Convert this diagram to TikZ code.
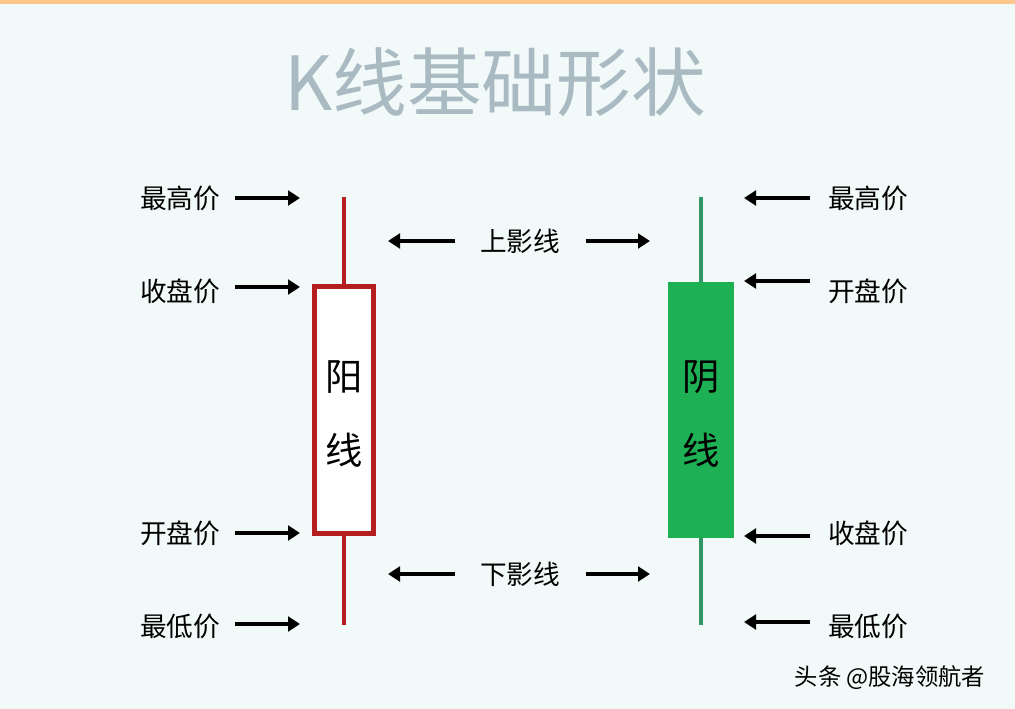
\documentclass[tikz,border=0pt]{standalone}
\usepackage{fontspec}
\newfontfamily\cjk{Noto Sans CJK SC}
\usetikzlibrary{arrows.meta}
\tikzset{every picture/.style={line width=0.75pt}}
\definecolor{bgc}{RGB}{241,249,249}
\definecolor{redc}{RGB}{180,30,30}
\definecolor{greenc}{RGB}{30,176,84}
\definecolor{greenw}{RGB}{50,150,100}
\definecolor{titlec}{RGB}{170,186,194}
\tikzset{
  lab/.style={inner sep=0.75pt,font=\cjk\fontsize{20}{22}\selectfont},
  boxtxt/.style={inner sep=0.75pt,font=\cjk\fontsize{28}{30}\selectfont},
  blkarrow/.style={line width=3.6pt,-{Triangle[length=9pt,width=11pt]}}
}
\begin{document}
\begin{tikzpicture}[x=0.75pt,y=0.75pt,yscale=-1]
	\fill[bgc] (0,0) rectangle (1015,709);
	\useasboundingbox (0,0) rectangle (1015,709);
	%top border
	\fill[orange!45] (0,0) rectangle (1015,4);
	
	% Title
	\node (title) [inner sep=0.75pt,text=titlec,font=\cjk\fontsize{56}{60}\selectfont] at (495,82) {K线基础形状};
	
	%Red candle
	\coordinate (rtop) at (344,197);
	\coordinate (rbot) at (344,625);
	\draw [redc,line width=3pt] (rtop) -- (rbot);
	\node (rbox) [draw=redc,fill=white,line width=3.5pt,minimum width=44pt,minimum height=185pt,inner sep=0pt] at (344,410) {};
	\node (yang) [boxtxt] at (344,377) {阳};
	\node (yline) [boxtxt] at (344,450) {线};
	
	%Green candle
	\coordinate (gtop) at (701,197);
	\coordinate (gbot) at (701,625);
	\draw [greenw,line width=3pt] (gtop) -- (gbot);
	\node (gbox) [fill=greenc,minimum width=49pt,minimum height=192pt,inner sep=0pt] at (701,410) {};
	\node (yin) [boxtxt] at (701,377) {阴};
	\node (gline) [boxtxt] at (701,450) {线};
	
	% Left labels
	\node (lhigh) [lab] at (180,198) {最高价};
	\node (lclose) [lab] at (180,291) {收盘价};
	\node (lopen) [lab] at (180,533) {开盘价};
	\node (llow) [lab] at (180,626) {最低价};
	\foreach \n/\y in {lhigh/198,lclose/287,lopen/533,llow/624}{
		\coordinate (\n a) at (235,\y);
		\coordinate (\n b) at (300,\y);
		\draw [blkarrow] (\n a) -- (\n b);
	}
	
	% Right labels
	\node (rhigh) [lab] at (868,198) {最高价};
	\node (ropen) [lab] at (868,291) {开盘价};
	\node (rclose) [lab] at (868,533) {收盘价};
	\node (rlow) [lab] at (868,626) {最低价};
	\foreach \n/\y in {rhigh/198,ropen/281,rclose/536,rlow/622}{
		\coordinate (\n a) at (810,\y);
		\coordinate (\n b) at (744,\y);
		\draw [blkarrow] (\n a) -- (\n b);
	}
	
	% Shadow labels
	\node (upper) [lab] at (520,241) {上影线};
	\node (lower) [lab] at (520,574) {下影线};
	\foreach \n/\y in {upper/241,lower/574}{
		\coordinate (\n l) at (388,\y);
		\coordinate (\n r) at (650,\y);
		\draw [blkarrow] ([xshift=-18pt]\n.west) -- (\n l);
		\draw [blkarrow] ([xshift=18pt]\n.east) -- (\n r);
	}
	
	% Watermark
	\node (mark) [inner sep=0.75pt,font=\cjk\fontsize{17.5}{19}\selectfont] at (890,678) {头条 @股海领航者};
\end{tikzpicture}
\end{document}
